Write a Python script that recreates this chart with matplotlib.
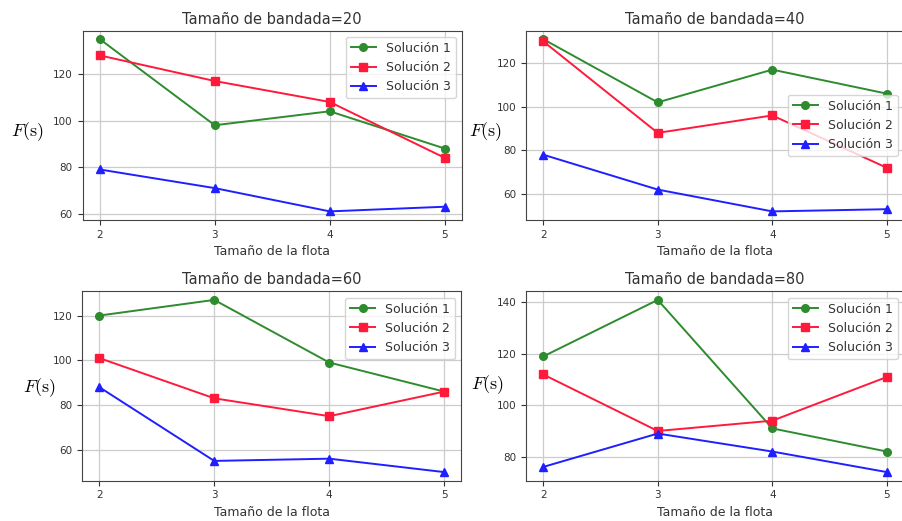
import matplotlib.pyplot as plt
from matplotlib.ticker import MultipleLocator

flota = [2, 3, 4, 5]
bandadas = [20, 40, 60, 80]

sol1 = {20: [135, 98, 104, 88], 40: [131, 102, 117, 106],
        60: [120, 127, 99, 86], 80: [119, 141, 91, 82]}
sol2 = {20: [128, 117, 108, 84], 40: [130, 88, 96, 72],
        60: [101, 83, 75, 86], 80: [112, 90, 94, 111]}
sol3 = {20: [79, 71, 61, 63], 40: [78, 62, 52, 53],
        60: [88, 55, 56, 50], 80: [76, 89, 82, 74]}

legend_locs = {20: 'upper right', 40: 'center right', 60: 'upper right', 80: 'upper right'}

# axes placement in pixels (left, top, right, bottom) of the 902x521 figure
W, H = 902, 521
boxes = {20: (82.5, 30.5, 462, 220), 40: (526, 30.5, 904, 220),
         60: (82, 291.3, 461.5, 480.7), 80: (526, 291.3, 904, 480.7)}
ylabel_xy = {20: (-0.146, 0.464), 40: (-0.106, 0.464),
             60: (-0.113, 0.491), 80: (-0.103, 0.505)}

plt.rcParams['mathtext.fontset'] = 'cm'
txt = '#333333'

fig = plt.figure(figsize=(W / 100, H / 100), dpi=100)

for b in bandadas:
    l, t, r, bt = boxes[b]
    ax = fig.add_axes([l / W, 1 - bt / H, (r - l) / W, (bt - t) / H])
    ax.plot(flota, sol1[b], color='#2e8b2e', marker='o', ms=5.5, lw=1.4, label='Solución 1')
    ax.plot(flota, sol2[b], color='#ff1a3c', marker='s', ms=5.5, lw=1.4, label='Solución 2')
    ax.plot(flota, sol3[b], color='#1f1fff', marker='^', ms=5.5, lw=1.4, label='Solución 3')
    ax.set_xticks(flota)
    ax.yaxis.set_major_locator(MultipleLocator(20))
    ax.grid(True, color='#cccccc', linewidth=0.9)
    ax.tick_params(labelsize=7.5, colors=txt)
    for s in ax.spines.values():
        s.set_color('#444444')
    ax.set_title(f'Tamaño de bandada={b}', fontsize=10.5, color=txt, pad=5)
    ax.set_xlabel('Tamaño de la flota', fontsize=9, color=txt)
    ax.set_ylabel(r'$F(\mathrm{s})$', fontsize=13, rotation=0, ha='center', va='center')
    ax.yaxis.set_label_coords(*ylabel_xy[b])
    leg = ax.legend(loc=legend_locs[b], fontsize=9)
    for tx in leg.get_texts():
        tx.set_color(txt)

fig.savefig('out.png', dpi=100)
